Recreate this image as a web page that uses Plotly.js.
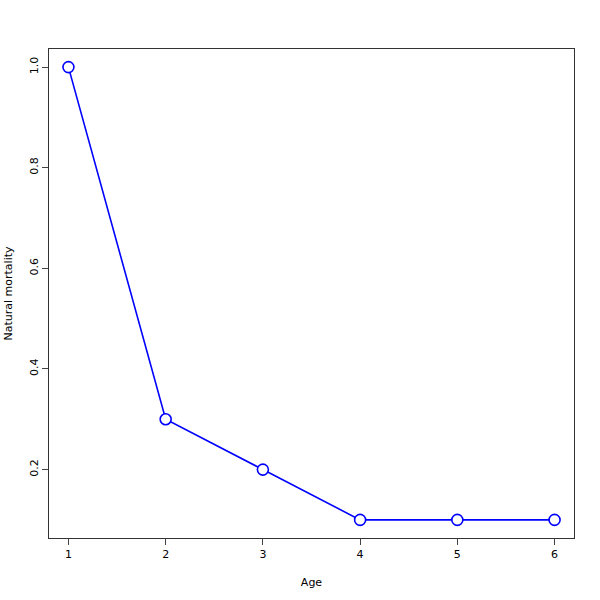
<!DOCTYPE html>
<html>
<head>
<meta charset="utf-8">
<script src="https://cdn.plot.ly/plotly-3.0.1.min.js"></script>
<style>html,body{margin:0;padding:0;background:#fff;}#chart{width:600px;height:600px;}</style>
</head>
<body>
<div id="chart"></div>
<script>
const ages = [1, 2, 3, 4, 5, 6];
const mortality = [1.0, 0.3, 0.2, 0.1, 0.1, 0.1];
const yTicks = [0.2, 0.4, 0.6, 0.8, 1.0];
const xTicks = [1, 2, 3, 4, 5, 6];

const trace = {
  x: ages, y: mortality, type: 'scatter', mode: 'lines+markers',
  line: {color: '#0000ff', width: 1.6},
  marker: {symbol: 'circle', size: 11, color: '#ffffff', line: {color: '#0000ff', width: 1.6}},
  hoverinfo: 'skip'
};
const font = {family: 'DejaVu Sans, sans-serif', size: 11, color: '#000'};
const layout = {
  width: 600, height: 600,
  margin: {l: 49, r: 26, t: 49, b: 62},
  paper_bgcolor: '#fff', plot_bgcolor: '#fff',
  showlegend: false,
  font: font,
  xaxis: {
    range: [0.8, 6.2], tickvals: xTicks, ticktext: xTicks.map(String),
    ticks: 'outside', ticklen: 6, tickcolor: '#444', tickwidth: 1,
    showgrid: false, zeroline: false, showline: true, linecolor: '#333', linewidth: 1, mirror: true,
    tickfont: font,
    title: {text: 'Age', font: font, standoff: 18}
  },
  yaxis: {
    range: [0.064, 1.036], tickvals: yTicks, ticktext: yTicks.map(v => v.toFixed(1)),
    tickangle: -90,
    ticks: 'outside', ticklen: 6, tickcolor: '#444', tickwidth: 1,
    showgrid: false, zeroline: false, showline: true, linecolor: '#333', linewidth: 1, mirror: true,
    tickfont: font,
    title: {text: 'Natural mortality', font: font, standoff: 12}
  }
};
Plotly.newPlot('chart', [trace], layout, {staticPlot: true, displayModeBar: false});
</script>
</body>
</html>
